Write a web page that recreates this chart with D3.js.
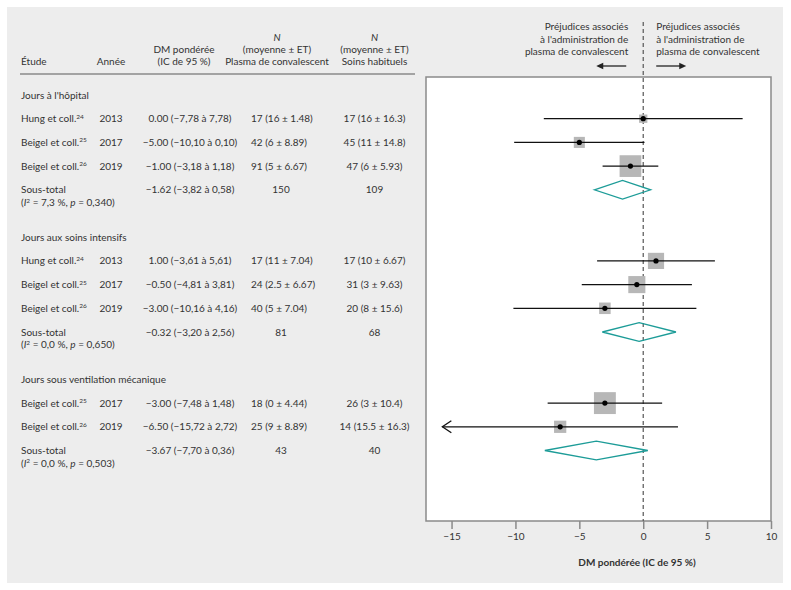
<!DOCTYPE html>
<html><head><meta charset="utf-8">
<script src="https://cdn.jsdelivr.net/npm/d3@7"></script>
<style>
body{margin:0;background:#fff;}
text{font-family:Lato,"Open Sans",sans-serif;fill:#333;}
</style></head>
<body><svg id="chart" width="791" height="590"></svg>
<script>
// ---- data ----
const groups = ["Jours à l'hôpital", "Jours aux soins intensifs", "Jours sous ventilation mécanique"];
const studyGroup = [0, 0, 0, 1, 1, 1, 2, 2];
const studyAuthor = ["Hung et coll.", "Beigel et coll.", "Beigel et coll.", "Hung et coll.", "Beigel et coll.", "Beigel et coll.", "Beigel et coll.", "Beigel et coll."];
const studyRef = ["24", "25", "26", "24", "25", "26", "25", "26"];
const studyYear = [2013, 2017, 2019, 2013, 2017, 2019, 2017, 2019];
const studyMD = [0.00, -5.00, -1.00, 1.00, -0.50, -3.00, -3.00, -6.50];
const studyLo = [-7.78, -10.10, -3.18, -3.61, -4.81, -10.16, -7.48, -15.72];
const studyHi = [7.78, 0.10, 1.18, 5.61, 3.81, 4.16, 1.48, 2.72];
const studyWeight = [6.2, 14.5, 79.3, 39.1, 44.7, 16.2, 80.9, 19.1];
const cpN = [17, 42, 91, 17, 24, 40, 18, 25];
const cpMean = ["16", "6", "5", "11", "2.5", "5", "0", "9"];
const cpSD = ["1.48", "8.89", "6.67", "7.04", "6.67", "7.04", "4.44", "8.89"];
const usualN = [17, 45, 47, 17, 31, 20, 26, 14];
const usualMean = ["16", "11", "6", "10", "3", "8", "3", "15.5"];
const usualSD = ["16.3", "14.8", "5.93", "6.67", "9.63", "15.6", "10.4", "16.3"];
const subMD = [-1.62, -0.32, -3.67];
const subLo = [-3.82, -3.20, -7.70];
const subHi = [0.58, 2.56, 0.36];
const subCP = [150, 81, 43];
const subUsual = [109, 68, 40];
const subI2 = ["7,3", "0,0", "0,0"];
const subP = ["0,340", "0,650", "0,503"];
const xTicks = [-15, -10, -5, 0, 5, 10];
const xDomain = [-17, 10];

// ---- helpers ----
const minus = s => s.replace(/-/g, "\u2212");
const f2dot = v => minus(v.toFixed(2));
const f2com = v => minus(v.toFixed(2).replace(".", ","));
const mdText = (m, l, h) => `${f2dot(m)} (${f2com(l)} à ${f2com(h)})`;

const svg = d3.select("#chart");
svg.append("rect").attr("x", 7).attr("y", 7).attr("width", 776).attr("height", 576).attr("fill", "#ededed");

const x = d3.scaleLinear().domain(xDomain).range([426, 771]);
const y = d3.scaleLinear().domain([0, 15]).range([95, 450.5]);
const boxSize = w => 3.1 + 2.09 * Math.sqrt(w);

// rows
const rows = [];
groups.forEach((g, gi) => {
  const base = gi * 6;
  rows.push({type: "header", idx: base, g: gi});
  let k = 0;
  studyGroup.forEach((sg, i) => { if (sg === gi) { k++; rows.push({type: "study", idx: base + k, i}); } });
  rows.push({type: "sub", idx: base + k + 1, g: gi});
});

// ---- table header ----
const FS = 10;
const T = svg.append("g").attr("font-size", FS);
function txt(xp, yp, s, anchor) {
  return T.append("text").attr("x", xp).attr("y", yp).attr("dy", "0.35em").attr("text-anchor", anchor || "start").text(s);
}
txt(21, 61.7, "Étude");
txt(111, 61.7, "Année", "middle");
txt(184, 49.3, "DM pondérée", "middle");
txt(184, 61.7, "(IC de 95 %)", "middle");
txt(277, 37.7, "N", "middle").attr("font-style", "italic");
txt(277, 49.3, "(moyenne ± ET)", "middle");
txt(277, 61.7, "Plasma de convalescent", "middle");
txt(374.5, 37.7, "N", "middle").attr("font-style", "italic");
txt(374.5, 49.3, "(moyenne ± ET)", "middle");
txt(374.5, 61.7, "Soins habituels", "middle");
svg.append("line").attr("x1", 20).attr("x2", 415).attr("y1", 74).attr("y2", 74).attr("stroke", "#8a8a8a").attr("stroke-width", 1.3);

// ---- table rows ----
rows.forEach(r => {
  const yy = y(r.idx);
  if (r.type === "header") {
    txt(21, yy, groups[r.g]);
  } else if (r.type === "study") {
    const i = r.i;
    const t = txt(21, yy, studyAuthor[i]);
    t.append("tspan").attr("font-size", 6.5).attr("dy", "-0.55em").text(studyRef[i]);
    txt(111, yy, String(studyYear[i]), "middle");
    txt(190, yy, mdText(studyMD[i], studyLo[i], studyHi[i]), "middle");
    txt(251, yy, `${cpN[i]} (${cpMean[i]} ± ${cpSD[i]})`);
    txt(374.5, yy, `${usualN[i]} (${usualMean[i]} ± ${usualSD[i]})`, "middle");
  } else {
    const g = r.g;
    txt(21, yy, "Sous-total");
    const t2 = txt(21, yy + 12.5, "(");
    t2.append("tspan").attr("font-style", "italic").text("I");
    t2.append("tspan").attr("font-size", 6.5).attr("dy", "-0.5em").text("2");
    t2.append("tspan").attr("dy", "0.33em").text(` = ${subI2[g]} %, `);
    t2.append("tspan").attr("font-style", "italic").text("p");
    t2.append("tspan").text(` = ${subP[g]})`);
    txt(190, yy, mdText(subMD[g], subLo[g], subHi[g]), "middle");
    txt(281, yy, String(subCP[g]), "middle");
    txt(374.5, yy, String(subUsual[g]), "middle");
  }
});

// ---- plot box ----
svg.append("rect").attr("x", x(xDomain[0])).attr("y", 77).attr("width", x(xDomain[1]) - x(xDomain[0])).attr("height", 521 - 77)
  .attr("fill", "#fff").attr("stroke", "#8a8a8a").attr("stroke-width", 1.5);

// zero line
svg.append("line").attr("x1", x(0)).attr("x2", x(0)).attr("y1", 22).attr("y2", 521)
  .attr("stroke", "#555").attr("stroke-width", 1.2).attr("stroke-dasharray", "4,3");

// annotations
const A = svg.append("g").attr("font-size", FS);
["Préjudices associés", "à l'administration de", "plasma de convalescent"].forEach((s, k) => {
  A.append("text").attr("x", x(0) - 15).attr("y", 26.7 + k * 12.5).attr("dy", "0.35em").attr("text-anchor", "end").text(s);
  A.append("text").attr("x", x(0) + 13).attr("y", 26.7 + k * 12.5).attr("dy", "0.35em").text(s);
});
function arrow(x1, x2, yy) {
  const dir = Math.sign(x2 - x1);
  svg.append("line").attr("x1", x1).attr("x2", x2 - dir * 5).attr("y1", yy).attr("y2", yy).attr("stroke", "#222").attr("stroke-width", 1.3);
  svg.append("path").attr("d", `M${x2},${yy}L${x2 - dir * 7},${yy - 3.2}L${x2 - dir * 7},${yy + 3.2}Z`).attr("fill", "#222");
}
arrow(x(0) - 17, x(0) - 47, 66);
arrow(x(0) + 13, x(0) + 43, 66);

// ---- marks ----
const P = svg.append("g");
rows.filter(r => r.type === "study").forEach(r => {
  const i = r.i, yy = y(r.idx), s = boxSize(studyWeight[i]);
  P.append("rect").attr("x", x(studyMD[i]) - s / 2).attr("y", yy - s / 2).attr("width", s).attr("height", s).attr("fill", "#b7b7b7");
  const lo = Math.max(studyLo[i], xDomain[0]);
  P.append("line").attr("x1", x(lo)).attr("x2", x(studyHi[i])).attr("y1", yy).attr("y2", yy).attr("stroke", "#111").attr("stroke-width", 1.3);
  if (r.i === 7) {
    const ax = x(studyLo[i]);
    P.append("path").attr("d", `M${ax + 9},${yy - 6}L${ax},${yy}L${ax + 9},${yy + 6}`).attr("fill", "none").attr("stroke", "#111").attr("stroke-width", 1.3);
  }
  P.append("circle").attr("cx", x(studyMD[i])).attr("cy", yy).attr("r", 2.6).attr("fill", "#000");
});
rows.filter(r => r.type === "sub").forEach(r => {
  const g = r.g, yy = y(r.idx), h = 9.3;
  P.append("path").attr("d", `M${x(subLo[g])},${yy}L${x(subMD[g])},${yy - h}L${x(subHi[g])},${yy}L${x(subMD[g])},${yy + h}Z`)
    .attr("fill", "none").attr("stroke", "#1d9c98").attr("stroke-width", 1.3);
});

// ---- axis ----
const ax = svg.append("g").attr("transform", "translate(0,521)")
  .call(d3.axisBottom(x).tickValues(xTicks).tickSize(8).tickPadding(4).tickFormat(d3.format("d")));
ax.select(".domain").remove();
ax.selectAll(".tick line").attr("stroke", "#8a8a8a").attr("stroke-width", 1.5);
ax.selectAll(".tick text").attr("font-size", FS).attr("font-family", "Lato,sans-serif").attr("fill", "#333");
svg.append("text").attr("x", 637).attr("y", 562).attr("dy", "0.35em").attr("text-anchor", "middle")
  .attr("font-size", FS).attr("font-weight", "bold").text("DM pondérée (IC de 95 %)");
</script></body></html>
